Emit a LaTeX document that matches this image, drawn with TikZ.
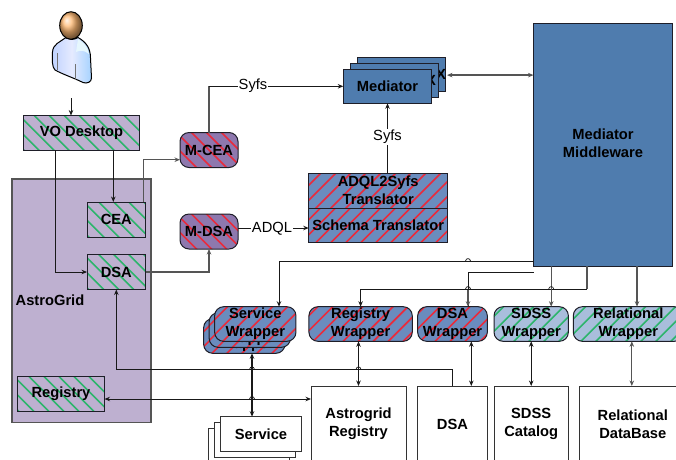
\documentclass[tikz,border=0pt]{standalone}
\usepackage{fontspec}
\setmainfont{Liberation Sans}
\usetikzlibrary{calc,arrows.meta}
\definecolor{astro}{HTML}{BEB0D0}
\definecolor{mcol}{HTML}{8E78AE}
\definecolor{hblue}{HTML}{6A8CBE}
\definecolor{lblue}{HTML}{A9BEDC}
\definecolor{medblue}{HTML}{4F7CAE}
\definecolor{edge}{HTML}{1E1E28}
\definecolor{hgreen}{HTML}{2DB56C}
\definecolor{hred}{HTML}{E92B3C}
\definecolor{gline}{HTML}{555555}
\tikzset{
  stripesdown/.style={path picture={\foreach \i in {-24,...,24}{\draw[#1,line width=1.6pt] ($(path picture bounding box.center)+({\i*15-150},-150)$) -- ++(300,300);}}},
  stripesup/.style={path picture={\foreach \i in {-24,...,24}{\draw[#1,line width=1.6pt] ($(path picture bounding box.center)+({\i*15+150},-150)$) -- ++(-300,300);}}},
  base/.style={draw=edge,line width=1pt,inner sep=0pt,outer sep=0pt,align=center,font=\fontsize{14.7}{18}\selectfont\bfseries},
  greenbox/.style={base,fill=astro,stripesdown=hgreen},
  redround/.style={base,fill=mcol,rounded corners=9pt,stripesdown=hred},
  redblue/.style={base,fill=hblue,stripesup=hred},
  redwrap/.style={base,fill=hblue,rounded corners=9pt,stripesup=hred},
  greenwrap/.style={base,fill=lblue,rounded corners=9pt,stripesup=hgreen},
  medbox/.style={base,fill=medblue},
  plainbox/.style={base,fill=white,draw=black!80},
  conn/.style={draw=black!90,line width=0.9pt},
  gconn/.style={draw=gline,line width=1.3pt},
  tip/.style={-{Stealth[length=5.5pt,width=4.5pt]}},
  rtip/.style={{Stealth[length=5.5pt,width=4.5pt]}-},
  dtip/.style={{Stealth[length=5.5pt,width=4.5pt]}-{Stealth[length=5.5pt,width=4.5pt]}},
  lbl/.style={fill=white,inner sep=1pt,font=\fontsize{14.7}{18}\selectfont},
  free/.style={inner sep=0pt,font=\fontsize{14.7}{18}\selectfont\bfseries,align=center},
}
\newcommand{\hopat}[2]{\draw[conn,line width=0.7pt] (#1-2.5,#2) .. controls (#1-2,#2-3.2) and (#1+2,#2-3.2) .. (#1+2.5,#2);}
\begin{document}
\begin{tikzpicture}[x=1pt,y=-1pt]
\useasboundingbox (0,0) rectangle (676,459);
\clip (0,0) rectangle (676,459);
% user figure
\path[draw=black,line width=1pt,left color=cyan!30!blue!25!white,right color=cyan!50!blue!35!white,middle color=cyan!20!blue!10!white]
  (52.5,52) .. controls (53,44) and (60,42) .. (66,37.5) .. controls (70,40) and (74,40) .. (78,37.5)
  .. controls (86,42) and (90.5,48) .. (90.5,58) -- (91.5,78) .. controls (91.5,82) and (87,84) .. (83,82.5)
  .. controls (74,78) and (62,74) .. (55,70) .. controls (52,67) and (52,60) .. (52.5,52) -- cycle;
\path[fill=cyan!10!white] (78,39) .. controls (84,43) and (88,47) .. (89,54) .. controls (84,50) and (80,50) .. (76,52) -- cycle;
\draw[black!55,line width=0.7pt] (57,53) -- (57,70);
\draw[black!55,line width=0.7pt] (75,64) -- (75,80);
\path[draw=black,line width=1pt,ball color=orange!55!white,shading=ball] (71,25.5) ellipse [x radius=11.3,y radius=13.8];
\coordinate (userfoot) at (71,98);

% boxes
\node[base,fill=astro,draw=gline,line width=1.3pt,minimum width=139pt,minimum height=243.5pt] (astrogrid) at (81.5,300.8) {};
\node[free,anchor=west] (astrolabel) at (15.5,300) {AstroGrid};
\node[greenbox,minimum width=116pt,minimum height=34.5pt] (vo) at (81.5,132.8) {VO Desktop};
\node[greenbox,minimum width=58.5pt,minimum height=35pt] (cea) at (116.3,219.5) {CEA};
\node[greenbox,minimum width=58.5pt,minimum height=35pt] (dsa) at (116.3,272) {DSA};
\node[greenbox,minimum width=87pt,minimum height=35pt] (reg) at (61,393.5) {Registry};
\node[redround,minimum width=58pt,minimum height=35pt] (mcea) at (209,150) {M-CEA};
\node[redround,minimum width=58pt,minimum height=35pt] (mdsa) at (209,231.5) {M-DSA};
\node[redblue,minimum width=139pt,minimum height=34.7pt] (adql) at (378.2,190.7) {ADQL2Syfs\\Translator};
\node[redblue,minimum width=139pt,minimum height=34.3pt] (schema) at (378.2,225.2) {Schema Translator};
\node[medbox,minimum width=88.4pt,minimum height=34pt] (med3) at (401.5,74.3) {\hspace{13pt}Mediator\,\,X};
\node[medbox,minimum width=88.4pt,minimum height=34pt] (med2) at (394.5,80.3) {\hspace{7pt}Mediator\,\,X};
\node[medbox,minimum width=88.4pt,minimum height=34pt] (med1) at (387.5,86.3) {Mediator};
\node[medbox,minimum width=139pt,minimum height=243pt] (mw) at (603,144.5) {};
\node[free] (mwtext) at (603,143) {Mediator\\Middleware};
\node[redwrap,minimum width=81.3pt,minimum height=34.6pt] (wsvcc) at (244.3,336) {Service\\Wrapper};
\node[redwrap,minimum width=81.3pt,minimum height=34.6pt] (wsvcb) at (249.8,330) {Service\\Wrapper};
\node[redwrap,minimum width=81.3pt,minimum height=34.6pt] (wsvca) at (255.3,324) {Service\\Wrapper};
\node[redwrap,minimum width=103.3pt,minimum height=34.6pt] (wreg) at (360.6,324) {Registry\\Wrapper};
\node[redwrap,minimum width=69.6pt,minimum height=34.6pt] (wdsa) at (452.5,324) {DSA\\Wrapper};
\node[greenwrap,minimum width=74.3pt,minimum height=34.6pt] (wsdss) at (531.2,324) {SDSS\\Wrapper};
\node[greenwrap,minimum width=110pt,minimum height=34.6pt] (wrel) at (628.3,324) {Relational\\Wrapper};
\node[plainbox,minimum width=95pt,minimum height=76pt] (areg) at (358.5,424) {Astrogrid\\Registry};
\node[plainbox,minimum width=69.6pt,minimum height=76pt] (bdsa) at (452.5,424) {DSA};
\node[plainbox,minimum width=74.3pt,minimum height=76pt] (bsdss) at (531.2,424) {SDSS\\Catalog};
\node[plainbox,minimum width=107pt,minimum height=76pt] (brel) at (632.8,424) {Relational\\DataBase};
\node[plainbox,minimum width=81.4pt,minimum height=35pt] (svc3) at (249,445.8) {};
\node[plainbox,minimum width=81.4pt,minimum height=35pt] (svc2) at (255,440) {};
\node[plainbox,minimum width=81.4pt,minimum height=35pt] (svc1) at (261,434.2) {Service};

% named helper points
\coordinate (voa) at ([xshift=-3pt]cea.north);
\coordinate (ceaup) at ([xshift=27pt]cea.north);
\coordinate (adqlout) at ([yshift=3.5pt]mdsa.east);
\coordinate (medin) at ([yshift=-0.8pt]med3.east);
\coordinate (lvA) at ([yshift=5pt]mw.south west);
\coordinate (lvB) at ([xshift=-16pt,yshift=-23pt]mw.south);
\coordinate (mwtap) at ([yshift=-127.5pt]mw.west);
\coordinate (dsadrop) at ([xshift=15.5pt]wdsa.north);
\coordinate (svcdrop) at ([xshift=23.7pt]wsvca.north);
\coordinate (sdssdrop) at ([xshift=20pt]wsdss.north);
\coordinate (reldrop) at ([xshift=8.7pt]wrel.north);
\coordinate (svcio) at ([xshift=-9pt]svc1.north);
\coordinate (dsaio) at ([xshift=18.8pt]bdsa.north);
\coordinate (relio) at ([xshift=-1pt]brel.north);
\coordinate (lvC) at ([yshift=-79.7pt]dsa.south);
\coordinate (regio) at ([yshift=-5.5pt]reg.east);

% connectors
\draw[conn,tip] (userfoot) -- (userfoot |- vo.north);
\draw[conn,tip] (voa |- vo.south) -- (voa);
\draw[conn,tip] ([xshift=-26pt]vo.south) |- (dsa.west);
\draw[gconn,tip] (ceaup) |- ([yshift=-9.7pt]mcea.west);
\draw[gconn] (mcea.north) -- (mcea.north |- med1.west);
\draw[conn,tip] (mcea.north |- med1.west) -- (med1.west);
\node[lbl] (syfsa) at (253,86) {Syfs};
\draw[gconn,tip] (dsa.east) -| (mdsa.south);
\draw[conn,tip] (adqlout) -- (adqlout -| schema.west);
\node[lbl] (adqllabel) at (272,228.5) {ADQL};
\draw[conn,tip] (med1.south |- adql.north) -- (med1.south);
\node[lbl] (syfsb) at (387.5,137) {Syfs};
\draw[gconn,dtip,shorten <=1pt] (medin) -- (medin -| mw.west);
\draw[conn] (mwtap) -| (dsadrop);
\draw[gconn,tip] (dsadrop |- lvB) -- (dsadrop);
\draw[conn,tip] (lvA) -| (svcdrop);
\draw[gconn] ([xshift=-16pt]mw.south) |- (lvB);
\draw[conn,tip] (lvB) -| (wreg.north);
\draw[gconn,tip] (sdssdrop |- mw.south) -- (sdssdrop);
\draw[gconn,tip] (reldrop |- mw.south) -- (reldrop);
\draw[conn,dtip,line width=1.2pt] (svcio |- wsvcc.south) -- (svcio);
\draw[conn,dtip] (areg.north |- wreg.south) -- (areg.north);
\draw[conn,dtip] (dsaio |- wdsa.south) -- (dsaio);
\draw[conn,dtip] (bsdss.north |- wsdss.south) -- (bsdss.north);
\draw[gconn,dtip] (relio |- wrel.south) -- (relio);
\draw[conn,rtip] (dsa.south) -- (lvC) -| (bdsa.north);
\draw[conn,dtip] (regio) -- (regio -| areg.west);
% line hops
\hopat{252.0}{369.3}
\hopat{358.5}{369.3}
\hopat{252.0}{399.0}
\hopat{468.0}{261.0}
\hopat{468.0}{289.0}
\hopat{551.2}{289.0}
\end{tikzpicture}
\end{document}
